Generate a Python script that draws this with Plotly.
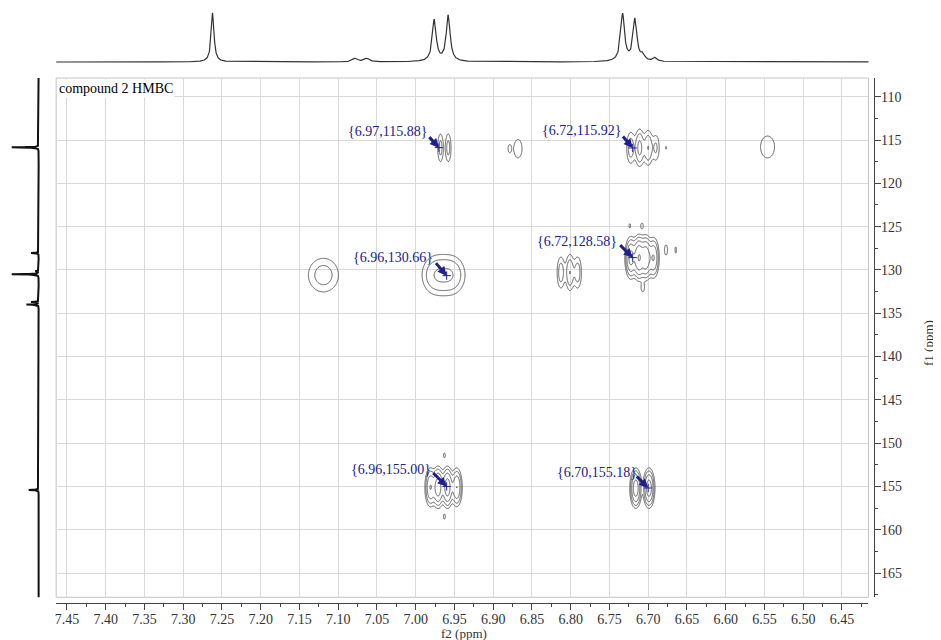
import numpy as np
import plotly.graph_objects as go

# page is 941x640; the html body has an 8px margin, so the figure is 933x632
PAGE_OFF = 8
W, H = 941 - PAGE_OFF, 640 - PAGE_OFF

# ---------------- data ----------------
# 1H projection (top trace): shift (ppm), relative height, half-width
h_shift = [7.262, 7.078, 7.063, 6.976, 6.958, 6.733, 6.717, 6.707, 6.691]
h_height = [1.00, 0.07, 0.07, 0.85, 0.94, 0.96, 0.86, 0.12, 0.08]
h_hwhm = [0.0022, 0.004, 0.004, 0.003, 0.003, 0.003, 0.003, 0.003, 0.003]

# 13C projection (left trace)
c_shift = [115.85, 128.05, 130.15, 130.5, 133.7, 134.0, 155.4]
c_height = [1.0, 0.28, 0.12, 1.0, 0.28, 0.45, 0.37]
c_hwhm = 0.03

# HMBC cross peaks: group, f2 (ppm), f1 (ppm), amplitude, f2 width, f1 width
pk_group = [1, 1,
            2, 2,
            3, 3, 3, 3, 3,
            4,
            5,
            6, 6,
            7, 7, 7,
            8, 8, 8, 8, 8, 8, 8, 8, 8,
            9, 9, 9, 9, 9, 9,
            10, 10]
pk_f2 = [6.968, 6.958,
         6.879, 6.868,
         6.7225, 6.711, 6.700, 6.690, 6.677,
         6.546,
         7.119,
         6.974, 6.954,
         6.8126, 6.801, 6.791,
         6.7225, 6.712, 6.703, 6.693, 6.677, 6.6645, 6.7237, 6.708, 6.707,
         6.981, 6.971, 6.959, 6.947, 6.963, 6.963,
         6.716, 6.699]
pk_f1 = [115.9, 115.9,
         116.0, 116.0,
         115.9, 115.9, 115.9, 115.9, 115.9,
         115.8,
         130.6,
         130.6, 130.6,
         130.3, 130.3, 130.3,
         128.6, 128.6, 128.6, 128.6, 127.7, 127.7, 124.9, 124.9, 132.1,
         155.1, 155.1, 155.1, 155.1, 151.4, 158.5,
         155.2, 155.2]
pk_amp = [2.6, 2.6,
          1.25, 2.0,
          3.0, 5.0, 4.0, 2.2, 1.15,
          1.6,
          2.8,
          3.6, 3.6,
          3.0, 4.0, 3.0,
          10, 16, 14, 8, 1.6, 1.3, 1.3, 1.4, 1.5,
          8, 12, 12, 8, 1.3, 1.3,
          12, 12]
pk_sx = [0.0026, 0.0026,
         0.0025, 0.0044,
         0.0035, 0.0035, 0.0035, 0.0033, 0.0012,
         0.0093,
         0.0135,
         0.0110, 0.0110,
         0.0033, 0.0033, 0.0033,
         0.0036, 0.0036, 0.0036, 0.0036, 0.002, 0.0012, 0.0012, 0.0018, 0.002,
         0.0035, 0.0035, 0.0035, 0.0035, 0.0015, 0.0015,
         0.0035, 0.0035]
pk_sy = [1.15, 1.15,
         0.6, 0.9,
         1.2, 1.2, 1.2, 1.1, 0.3,
         1.3,
         1.35,
         1.35, 1.35,
         1.2, 1.25, 1.2,
         1.15, 1.15, 1.15, 1.15, 0.6, 0.5, 0.3, 0.35, 0.45,
         1.1, 1.1, 1.1, 1.1, 0.35, 0.35,
         1.05, 1.05]

# labelled correlations
lab_f2 = [6.97, 6.72, 6.96, 6.72, 6.96, 6.70]
lab_f1 = [115.88, 115.92, 130.66, 128.58, 155.00, 155.18]

# axis ticks
x_ticks = [7.45, 7.40, 7.35, 7.30, 7.25, 7.20, 7.15, 7.10, 7.05, 7.00, 6.95,
           6.90, 6.85, 6.80, 6.75, 6.70, 6.65, 6.60, 6.55, 6.50, 6.45]
x_ticklabels = ["7.45", "7.40", "7.35", "7.30", "7.25", "7.20", "7.15", "7.10",
                "7.05", "7.00", "6.95", "6.90", "6.85", "6.80", "6.75", "6.70",
                "6.65", "6.60", "6.55", "6.50", "6.45"]
y_ticks = [110, 115, 120, 125, 130, 135, 140, 145, 150, 155, 160, 165]
y_ticklabels = ["110", "115", "120", "125", "130", "135", "140", "145",
                "150", "155", "160", "165"]

# ---------------- geometry / style ----------------
X_RANGE = [7.4638, 6.4158]
Y_RANGE = [167.8, 107.84]
px_l, px_r, px_t, px_b = 54.3, 868.3, 78.0, 597.3   # page pixels
SERIF = "Liberation Serif"
NAVY = "#20208a"


def fx(p):
    """page x pixel -> paper fraction"""
    return (p - PAGE_OFF) / W


def fy(p):
    """page y pixel -> paper fraction"""
    return 1 - (p - PAGE_OFF) / H


fig = go.Figure()

# top 1H trace
hx = np.arange(6.40, 7.48, 0.0004)
hy = np.zeros_like(hx)
for s, h, w in zip(h_shift, h_height, h_hwhm):
    hy += h / (1 + ((hx - s) / w) ** 2)
fig.add_trace(go.Scatter(x=hx, y=hy, mode="lines", line=dict(color="#333", width=1.2),
                         xaxis="x2", yaxis="y2", hoverinfo="skip", showlegend=False))

# left 13C trace
cy = np.arange(107.0, 169.0, 0.01)
cx = np.zeros_like(cy)
for s, h in zip(c_shift, c_height):
    cx += h / (1 + ((cy - s) / c_hwhm) ** 2)
fig.add_trace(go.Scatter(x=np.round(cx, 4), y=np.round(cy, 2), mode="lines",
                         line=dict(color="#111", width=2),
                         xaxis="x3", yaxis="y3", hoverinfo="skip", showlegend=False))

# contour groups
for g in sorted(set(pk_group)):
    idx = [i for i, gg in enumerate(pk_group) if gg == g]
    x0 = min(pk_f2[i] - 5 * pk_sx[i] for i in idx) - 0.003
    x1 = max(pk_f2[i] + 5 * pk_sx[i] for i in idx) + 0.003
    y0 = min(pk_f1[i] - 4.5 * pk_sy[i] for i in idx) - 0.3
    y1 = max(pk_f1[i] + 4.5 * pk_sy[i] for i in idx) + 0.3
    xs = np.arange(x0, x1, 0.0006)
    ys = np.arange(y0, y1, 0.06)
    XX, YY = np.meshgrid(xs, ys)
    Z = np.zeros_like(XX)
    for i in idx:
        Z += pk_amp[i] * np.exp(-0.5 * ((XX - pk_f2[i]) / pk_sx[i]) ** 2
                                - 0.5 * ((YY - pk_f1[i]) / pk_sy[i]) ** 2)
    Z = np.clip(np.log2(Z + 1e-9), -2, None)
    fig.add_trace(go.Contour(
        x=np.round(xs, 5), y=np.round(ys, 3), z=np.round(Z, 3),
        contours=dict(start=0, end=4, size=1, coloring="lines"),
        line=dict(width=1, smoothing=1),
        colorscale=[[0, "#5a5a5a"], [1, "#5a5a5a"]],
        showscale=False, hoverinfo="skip", xaxis="x", yaxis="y"))

# crosshair markers at labelled points
fig.add_trace(go.Scatter(x=lab_f2, y=lab_f1, mode="markers",
                         marker=dict(symbol="cross-thin", size=6,
                                     line=dict(width=1, color=NAVY)),
                         xaxis="x", yaxis="y", hoverinfo="skip", showlegend=False))

# label text offsets (pixels) relative to the point
txt_shift = [(-10, 16.6), (-10, 17), (-11.5, 18.6), (-14, 16.6), (-13.5, 17.4), (-9.5, 16)]
arr_tail = [(-11, -12), (-11, -13), (-12, -14), (-14, -14), (-15, -15), (-13, -13)]

annotations = []
for f2, f1, (dx, dy), (ax, ay) in zip(lab_f2, lab_f1, txt_shift, arr_tail):
    annotations.append(dict(
        x=f2, y=f1, xref="x", yref="y", text="{%.2f,%.2f}" % (f2, f1),
        showarrow=False, xanchor="right", yanchor="middle", xshift=dx, yshift=dy,
        font=dict(family=SERIF, size=14, color=NAVY)))
    annotations.append(dict(
        x=f2, y=f1, xref="x", yref="y", text="", showarrow=True,
        ax=ax, ay=ay, arrowhead=2, arrowsize=0.6, arrowwidth=3,
        arrowcolor=NAVY, standoff=0, startstandoff=0))

annotations.append(dict(
    x=fx(55.5), y=fy(88), xref="paper", yref="paper", text="compound 2 HMBC",
    showarrow=False, xanchor="left", yanchor="middle", bgcolor="white", borderpad=1,
    font=dict(family=SERIF, size=14, color="black")))
annotations.append(dict(
    x=fx(463), y=fy(633), xref="paper", yref="paper", text="f2 (ppm)",
    showarrow=False, xanchor="center", yanchor="middle",
    font=dict(family=SERIF, size=13, color="#333")))
annotations.append(dict(
    x=fx(928), y=fy(343), xref="paper", yref="paper", text="f1 (ppm)",
    showarrow=False, xanchor="center", yanchor="middle", textangle=-90,
    font=dict(family=SERIF, size=13, color="#333")))

x_minor = [round(t - 0.025, 3) for t in x_ticks] + [6.425]
y_minor = [t - 2.5 for t in y_ticks] + [167.5]

fig.update_layout(
    width=W, height=H, margin=dict(l=0, r=0, t=0, b=0),
    paper_bgcolor="white", plot_bgcolor="white", showlegend=False,
    xaxis=dict(domain=[fx(px_l), fx(px_r)], range=X_RANGE, anchor="free",
               position=fy(602.7), showline=True, linecolor="#444", linewidth=1,
               ticks="outside", ticklen=6, tickcolor="#444", tickwidth=1,
               tickmode="array", tickvals=x_ticks, ticktext=x_ticklabels,
               ticklabelstandoff=-3,
               tickfont=dict(family=SERIF, size=14, color="#333"),
               showgrid=True, gridcolor="#d9d9d9", gridwidth=1, zeroline=False,
               minor=dict(tickmode="array", tickvals=x_minor, ticks="outside",
                          ticklen=3, tickcolor="#444", showgrid=False)),
    yaxis=dict(domain=[fy(px_b), fy(px_t)], range=Y_RANGE, anchor="free",
               side="right", position=fx(874), showline=True, linecolor="#444",
               linewidth=1, ticks="outside", ticklen=6, tickcolor="#444", tickwidth=1,
               tickmode="array", tickvals=y_ticks, ticktext=y_ticklabels,
               ticklabelstandoff=-3,
               tickfont=dict(family=SERIF, size=14, color="#333"),
               showgrid=True, gridcolor="#d9d9d9", gridwidth=1, zeroline=False,
               minor=dict(tickmode="array", tickvals=y_minor, ticks="outside",
                          ticklen=3, tickcolor="#444", showgrid=False)),
    xaxis2=dict(domain=[fx(px_l), fx(px_r)], range=X_RANGE, anchor="y2", visible=False),
    yaxis2=dict(domain=[fy(65), fy(8)], range=[-0.0612, 1.102], anchor="x2", visible=False),
    xaxis3=dict(domain=[fx(8), fx(40)], range=[1.063, -0.122], anchor="y3", visible=False),
    yaxis3=dict(domain=[fy(px_b), fy(px_t)], range=Y_RANGE, anchor="x3", visible=False),
    annotations=annotations,
    shapes=[dict(type="rect", xref="x domain", yref="y domain", x0=0, x1=1, y0=0, y1=1,
                 line=dict(color="#c4c4c4", width=1), layer="below")],
)

fig.write_html("out.html")
